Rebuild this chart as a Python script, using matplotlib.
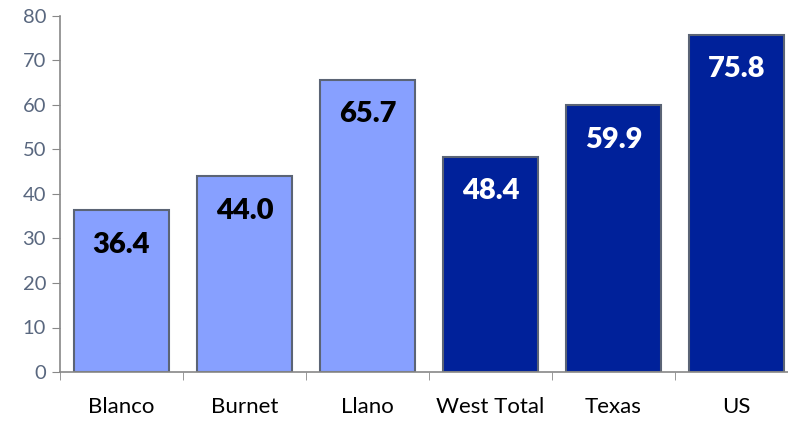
import matplotlib.pyplot as plt

plt.rcParams['font.family'] = ['Lato', 'DejaVu Sans']

regions = ['Blanco', 'Burnet', 'Llano', 'West Total', 'Texas', 'US']
values = [36.4, 44.0, 65.7, 48.4, 59.9, 75.8]
is_total = [False, False, False, True, True, True]

light = '#87a0ff'
dark = '#00219a'

fig = plt.figure(figsize=(7.88, 4.21), dpi=100)
ax = fig.add_axes([60 / 788, 49 / 421, 738 / 788, 356 / 421])

x = range(len(regions))
colors = [dark if t else light for t in is_total]
bars = ax.bar(x, values, width=0.78, color=colors, edgecolor='#5b6475', linewidth=1.5, zorder=2)

for b, v, t in zip(bars, values, is_total):
    ax.annotate(f'{v:.1f}', (b.get_x() + b.get_width() / 2, v),
                xytext=(0, -25), textcoords='offset points',
                ha='center', va='center', fontsize=21, fontweight='heavy',
                color='white' if t else 'black')

ax.set_xlim(-0.5, len(regions) - 0.5)
ax.set_ylim(0, 80)
ax.set_yticks(range(0, 81, 10))
ax.set_xticks(list(x))
ax.set_xticklabels(regions)
ax.set_xticks([i - 0.5 for i in range(len(regions) + 1)], minor=True)

ax.tick_params(axis='x', which='major', length=0, pad=18, labelsize=16, labelcolor='black')
ax.tick_params(axis='x', which='minor', length=6, color='#888888', direction='out')
ax.tick_params(axis='y', length=6, color='#888888', labelsize=14.5, labelcolor='#59677f', pad=4)

for s in ['top', 'right']:
    ax.spines[s].set_visible(False)
for s in ['left', 'bottom']:
    ax.spines[s].set_color('#888888')
    ax.spines[s].set_linewidth(1.2)

fig.savefig('out.png', dpi=100)
